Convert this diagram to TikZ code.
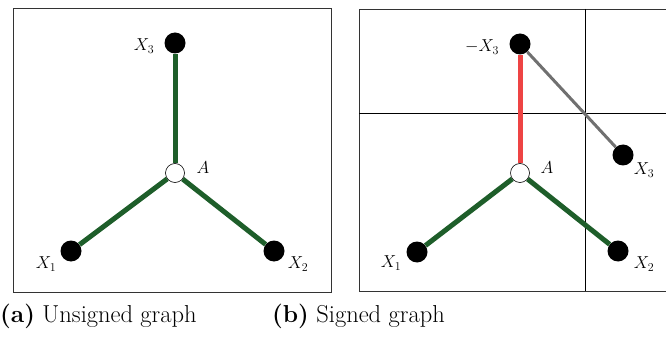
\documentclass[tikz,border=0pt]{standalone}
\usepackage{xcolor}
\definecolor{edgegreen}{HTML}{1E5E2A}
\definecolor{edgered}{HTML}{EE4444}
\definecolor{edgegray}{HTML}{707070}
\begin{document}
\begin{tikzpicture}[x=1pt,y=-1pt,
  blk/.style={circle,fill=black,minimum size=21pt,inner sep=0pt},
  hub/.style={circle,draw=black,fill=white,line width=0.6pt,minimum size=19pt,inner sep=0pt},
  lbl/.style={font=\fontsize{18}{20}\selectfont,inner sep=0pt},
  posedge/.style={draw=edgegreen,line width=5pt},
  negedge/.style={draw=edgered,line width=5pt},
  refedge/.style={draw=edgegray,line width=3pt},
  panelframe/.style={draw=black!80,line width=0.8pt},
  gridline/.style={draw=black,line width=0.6pt},
  captext/.style={font=\fontsize{24.5}{27}\selectfont,anchor=west,inner sep=0pt}]
\useasboundingbox (0,0) rectangle (666,339);
% panel a
\draw[panelframe] (13,8) rectangle (331,292);
\node[blk] (a3) at (175,43) {};
\node[hub] (aA) at (175,173) {};
\node[blk] (a1) at (71,251) {};
\node[blk] (a2) at (274,251) {};
\draw[posedge] (aA) -- (a3);
\draw[posedge] (aA) -- (a1);
\draw[posedge] (aA) -- (a2);
\node[lbl] (la3) at (144,46) {$X_3$};
\node[lbl] (laA) at (203,168) {$A$};
\node[lbl] (la1) at (46,264) {$X_1$};
\node[lbl] (la2) at (298,264) {$X_2$};
% panel b
\draw[panelframe] (666,9) -- (359,9) -- (359,291) -- (666,291);
\draw[gridline] (585,9) -- (585,291);
\draw[gridline] (359,113) -- (666,113);
\node[blk] (bm3) at (520,44) {};
\node[hub] (bA) at (520,173) {};
\node[blk] (b3) at (623,155) {};
\node[blk] (b1) at (417,252) {};
\node[blk] (b2) at (618,251) {};
\draw[refedge] (bm3) -- (b3);
\draw[negedge] (bA) -- (bm3);
\draw[posedge] (bA) -- (b1);
\draw[posedge] (bA) -- (b2);
\node[lbl] (lbm3) at (482,47) {$-X_3$};
\node[lbl] (lbA) at (547,168) {$A$};
\node[lbl] (lb3) at (644,170) {$X_3$};
\node[lbl] (lb1) at (391,263) {$X_1$};
\node[lbl] (lb2) at (644,264) {$X_2$};
% captions
\node[captext] (capa) at (0,316) {\textbf{(a)} Unsigned graph};
\node[captext] (capb) at (272,316) {\textbf{(b)} Signed graph};
\end{tikzpicture}
\end{document}
